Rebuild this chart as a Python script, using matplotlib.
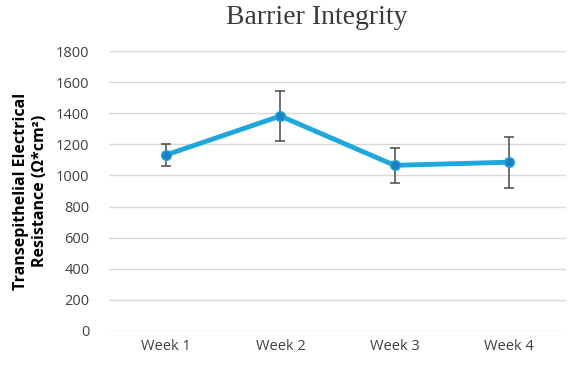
import numpy as np
import matplotlib
matplotlib.use("Agg")
import matplotlib.pyplot as plt

weeks = ['Week 1', 'Week 2', 'Week 3', 'Week 4']
teer = [1132, 1382, 1065, 1085]
teer_err = [70, 158, 112, 163]
yticks = [0, 200, 400, 600, 800, 1000, 1200, 1400, 1600, 1800]

plt.rcParams['font.family'] = ['Open Sans', 'DejaVu Sans']

fig = plt.figure(figsize=(5.72, 3.65), dpi=100)
ax = fig.add_axes([109/572, 1 - 331/365, 457/572, 280/365])

x = np.arange(len(weeks))
ax.errorbar(x, teer, yerr=teer_err, color='#1ea7dd', lw=3.5, marker='o',
            markersize=7, markerfacecolor='#1a7fc6', markeredgecolor='#1ea7dd',
            ecolor='#555555', elinewidth=1.2, capsize=3.5, capthick=1.2, zorder=3)

ax.set_xlim(-0.5, len(weeks) - 0.5)
ax.set_ylim(0, 1800)
ax.set_yticks(yticks)
ax.set_xticks(x)
ax.set_xticklabels(weeks)
ax.grid(axis='y', color='#d9d9d9', lw=1)
ax.set_axisbelow(True)
for s in ax.spines.values():
    s.set_visible(False)
ax.tick_params(length=0, labelsize=10.5, colors='#404040', pad=6)
ax.tick_params(axis='y', pad=14)

ax.set_ylabel('Transepithelial Electrical\nResistance (Ω*cm²)', fontsize=11.5,
              fontweight='bold', color='black', labelpad=6)
fig.text(0.553, 0.952, 'Barrier Integrity', ha='center', va='center',
         fontsize=20, color='#3a3a3a', family=['Liberation Serif'])

fig.savefig('out.png', dpi=100)
